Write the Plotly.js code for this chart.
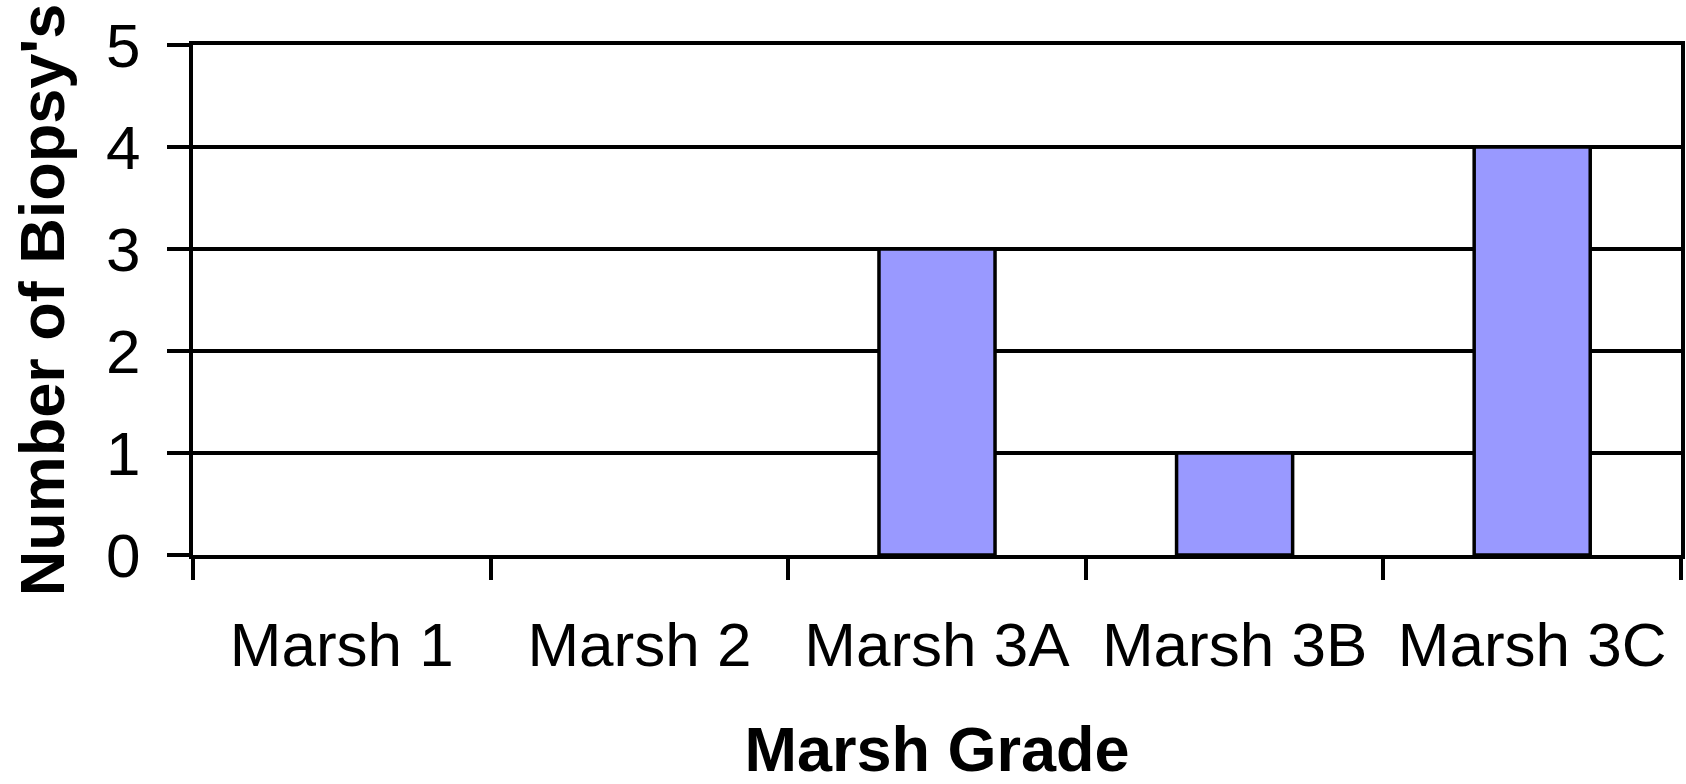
<!DOCTYPE html>
<html>
<head>
<meta charset="utf-8">
<script src="https://cdn.plot.ly/plotly-3.0.1.min.js"></script>
<style>html,body{margin:0;padding:0;background:#fff;}#chart{width:1686px;height:784px;}</style>
</head>
<body>
<div id="chart"></div>
<script>
const categories = ["Marsh 1", "Marsh 2", "Marsh 3A", "Marsh 3B", "Marsh 3C"];
const biopsies = [0, 0, 3, 1, 4];
const yTicks = [0, 1, 2, 3, 4, 5];
const xTitle = "Marsh Grade";
const yTitle = "Number of Biopsy's";

const FONT = '"Liberation Sans", Arial, sans-serif';

Plotly.newPlot('chart', [{
  type: 'bar',
  x: categories,
  y: biopsies,
  marker: {
    color: '#9999FF',
    line: { color: '#000000', width: biopsies.map(v => v === 0 ? 0 : 3.5) }
  },
  hoverinfo: 'none'
}], {
  width: 1686, height: 784,
  margin: { l: 193, r: 5, t: 45, b: 229 },
  paper_bgcolor: '#ffffff', plot_bgcolor: '#ffffff',
  bargap: 0.61,
  showlegend: false,
  font: { family: FONT, color: '#000000' },
  xaxis: {
    type: 'category',
    tickson: 'boundaries',
    ticks: 'outside', ticklen: 21, tickwidth: 4, tickcolor: '#000',
    showline: true, linecolor: '#000', linewidth: 4, mirror: true,
    showgrid: false, zeroline: false,
    tickfont: { family: FONT, size: 62, color: '#000' },
    ticklabelstandoff: 33,
    title: { text: xTitle, font: { family: FONT, size: 63, color: '#000', weight: 'bold' }, standoff: 56 },
    automargin: false
  },
  yaxis: {
    range: [0, 5],
    tickvals: yTicks,
    ticks: 'outside', ticklen: 22, tickwidth: 4, tickcolor: '#000',
    showline: true, linecolor: '#000', linewidth: 4, mirror: true,
    showgrid: true, gridcolor: '#000', gridwidth: 4,
    zeroline: false,
    tickfont: { family: FONT, size: 62, color: '#000' },
    ticklabelstandoff: 14,
    title: { text: yTitle, font: { family: FONT, size: 63, color: '#000', weight: 'bold' }, standoff: 22 },
    automargin: false
  }
}, { displayModeBar: false, staticPlot: true });
</script>
</body>
</html>
